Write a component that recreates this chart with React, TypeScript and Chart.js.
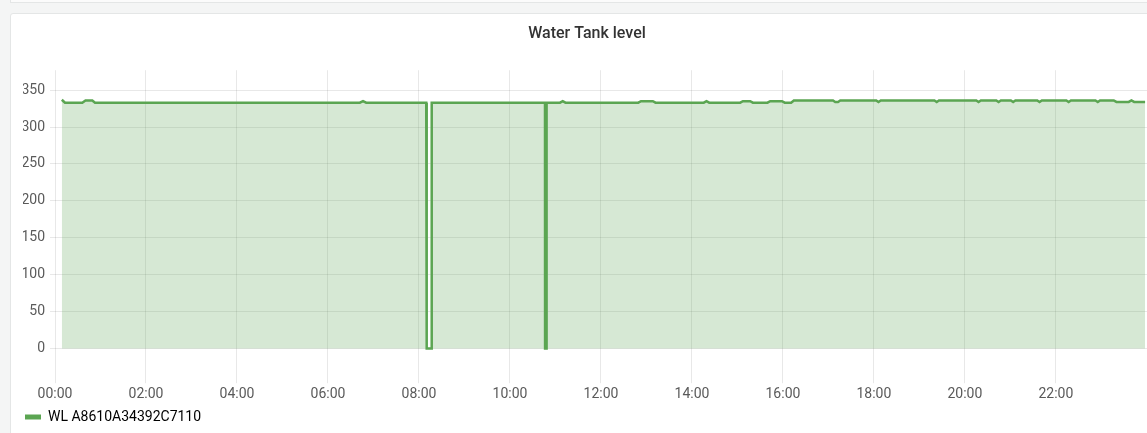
import React, { useEffect, useRef } from "react";
import { Chart, registerables } from "chart.js";

Chart.register(...registerables);

const chartTitle = "Water Tank level";
const seriesName = "WL A8610A34392C7110";

// time of day in hours
const times: number[] = [
  0.15, 0.22, 0.6, 0.67, 0.82, 0.88, 6.7, 6.77, 6.84,
  8.16, 8.17, 8.27, 8.28,
  10.77, 10.772, 10.803, 10.805,
  11.1, 11.16, 11.22, 12.82, 12.88, 13.14, 13.2,
  14.26, 14.32, 14.38, 15.06, 15.12, 15.28, 15.34, 15.66, 15.72, 15.98, 16.04, 16.18, 16.24,
  17.1, 17.15, 17.21, 17.26, 18.05, 18.1, 18.15,
  19.33, 19.38, 19.43, 20.25, 20.3, 20.35, 20.69, 20.74, 20.79, 21.01, 21.06, 21.11,
  21.59, 21.64, 21.69, 22.23, 22.28, 22.33, 22.87, 22.92, 22.97,
  23.27, 23.33, 23.6, 23.66, 23.72, 23.96,
];
const levels: number[] = [
  337, 333, 333, 336, 336, 333, 333, 335, 333,
  333, 0, 0, 333,
  333, 0, 0, 333,
  333, 335, 333, 333, 335, 335, 333,
  333, 335, 333, 333, 335, 335, 333, 333, 335, 335, 333, 333, 336,
  336, 334, 334, 336, 336, 334, 336,
  336, 334, 336, 336, 334, 336, 336, 334, 336, 336, 334, 336,
  336, 334, 336, 336, 334, 336, 336, 334, 336,
  336, 334, 334, 336, 334, 334,
];
const yTickValues: number[] = [0, 50, 100, 150, 200, 250, 300, 350];
const xTickHours: number[] = [0, 2, 4, 6, 8, 10, 12, 14, 16, 18, 20, 22];

const lineColor = "#5ba552";
const fillColor = "rgba(91,165,82,0.25)";
const textColor = "#5a5a5a";

export default function App() {
  const ref = useRef<HTMLCanvasElement | null>(null);

  useEffect(() => {
    if (!ref.current) return;
    const chart = new Chart(ref.current, {
      type: "line",
      data: {
        datasets: [
          {
            label: seriesName,
            data: times.map((t, i) => ({ x: t, y: levels[i] })),
            borderColor: lineColor,
            backgroundColor: fillColor,
            borderWidth: 2.5,
            pointRadius: 0,
            tension: 0,
            fill: "origin",
          },
        ],
      },
      options: {
        animation: false,
        responsive: false,
        maintainAspectRatio: false,
        layout: { padding: { left: 12, right: 28, top: 0, bottom: 0 } },
        font: { family: "Roboto" },
        plugins: {
          title: {
            display: true,
            text: chartTitle,
            color: "#333",
            font: { family: "Roboto", size: 16, weight: "500" },
            padding: { top: 10, bottom: 27 },
          },
          legend: {
            position: "bottom",
            align: "start",
            labels: {
              color: textColor,
              font: { family: "Roboto", size: 14 },
              boxWidth: 16,
              boxHeight: 5,
              padding: 2,
              generateLabels: () => [
                {
                  text: seriesName,
                  fillStyle: lineColor,
                  strokeStyle: lineColor,
                  lineWidth: 0,
                  hidden: false,
                  datasetIndex: 0,
                },
              ],
            },
          },
          tooltip: { enabled: false },
        },
        scales: {
          x: {
            type: "linear",
            min: 0,
            max: 24.09,
            afterBuildTicks: (scale: any) => {
              scale.ticks = xTickHours.map((v) => ({ value: v }));
            },
            afterFit: (scale: any) => {
              scale.height += 2;
            },
            ticks: {
              color: textColor,
              font: { family: "Roboto", size: 14 },
              maxRotation: 0,
              autoSkip: false,
              padding: 3,
              callback: (v: any) => String(v).padStart(2, "0") + ":00",
            },
            grid: { color: "rgba(0,0,0,0.09)", tickLength: 8 },
            border: { display: false },
          },
          y: {
            min: -36,
            max: 377,
            afterBuildTicks: (scale: any) => {
              scale.ticks = yTickValues.map((v) => ({ value: v }));
            },
            afterFit: (scale: any) => {
              scale.width = 32;
            },
            ticks: {
              color: textColor,
              font: { family: "Roboto", size: 14 },
              padding: 5,
            },
            grid: { color: "rgba(0,0,0,0.09)", tickLength: 5 },
            border: { display: false },
          },
        },
      },
    });
    return () => chart.destroy();
  }, []);

  return (
    <div
      style={{
        position: "fixed",
        left: 0,
        top: 0,
        width: 1147,
        height: 433,
        overflow: "hidden",
        background: "#f4f5f5",
      }}
    >
      <div
        style={{
          position: "absolute",
          left: 10,
          top: -10,
          width: 1200,
          height: 13,
          background: "#fbfbfb",
          border: "1px solid #e4e6e6",
          boxSizing: "border-box",
        }}
      />
      <div
        style={{
          position: "absolute",
          left: 10,
          top: 13,
          width: 1170,
          height: 450,
          background: "#fff",
          border: "1px solid #e4e6e6",
          borderRadius: 3,
          boxSizing: "border-box",
        }}
      >
        <canvas ref={ref} width={1168} height={420} style={{ display: "block" }} />
      </div>
    </div>
  );
}
